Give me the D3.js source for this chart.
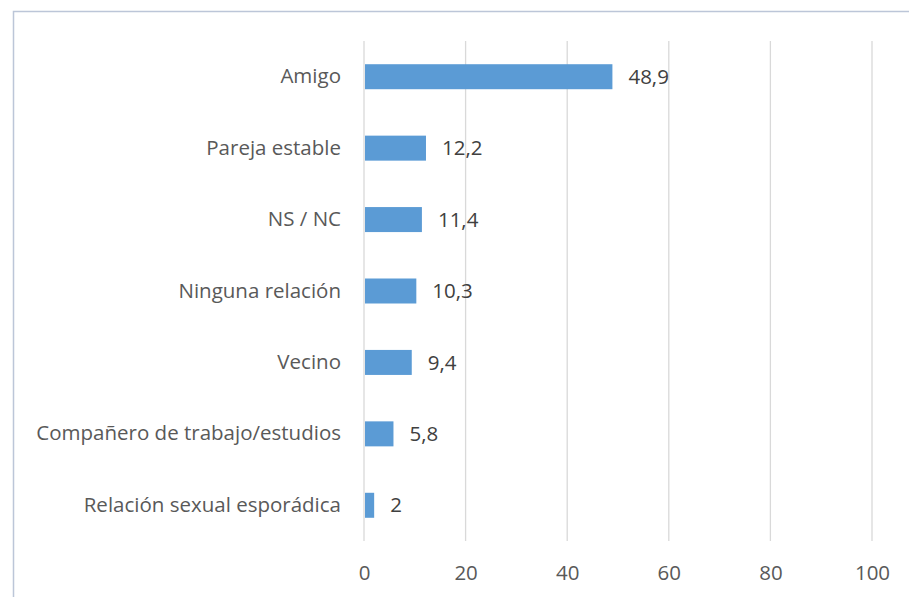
<!DOCTYPE html>
<html>
<head>
<meta charset="utf-8">
<script src="https://cdn.jsdelivr.net/npm/d3@7"></script>
<style>
  body { margin: 0; background: #fff; }
  svg { display: block; }
</style>
</head>
<body>
<script>
var categories = ["Amigo", "Pareja estable", "NS / NC", "Ninguna relación", "Vecino", "Compañero de trabajo/estudios", "Relación sexual esporádica"];
var values = [48.9, 12.2, 11.4, 10.3, 9.4, 5.8, 2];
var valueLabels = ["48,9", "12,2", "11,4", "10,3", "9,4", "5,8", "2"];
var ticks = [0, 20, 40, 60, 80, 100];

var W = 909, H = 597;
var margin = { top: 41, right: 37, bottom: 56, left: 364 },
  width = W - margin.left - margin.right,
  height = H - margin.top - margin.bottom;

var root = d3.select("body").append("svg")
  .attr("width", W)
  .attr("height", H);

// chart frame (runs off the right and bottom edges)
root.append("rect")
  .attr("x", 13.5).attr("y", 11.5)
  .attr("width", W + 10).attr("height", H + 10)
  .attr("fill", "none")
  .attr("stroke", "#bcc6d8")
  .attr("stroke-width", 1.5);

var svg = root.append("g")
  .attr("transform", "translate(" + margin.left + "," + margin.top + ")");

var x = d3.scaleLinear().domain([0, 100]).range([0, width]);
var y = d3.scaleBand().domain(categories).range([0, height]).paddingInner(0.65).paddingOuter(0.325);

var font = "'Open Sans', sans-serif";
var fs = "20.5px";

// gridlines
svg.selectAll(".grid")
  .data(ticks)
  .enter()
  .append("line")
  .attr("x1", function (d) { return x(d); })
  .attr("x2", function (d) { return x(d); })
  .attr("y1", 0)
  .attr("y2", height)
  .attr("stroke", "#d9d9d9")
  .attr("stroke-width", 1.3);

// bars
svg.selectAll(".bar")
  .data(values)
  .enter()
  .append("rect")
  .attr("class", "bar")
  .attr("x", x(0) + 1)
  .attr("y", function (d, i) { return y(categories[i]); })
  .attr("width", function (d) { return x(d) - x(0) - 1; })
  .attr("height", y.bandwidth())
  .attr("fill", "#5b9bd5");

// value labels
svg.selectAll(".val")
  .data(values)
  .enter()
  .append("text")
  .attr("x", function (d) { return x(d) + 16; })
  .attr("y", function (d, i) { return y(categories[i]) + y.bandwidth() / 2; })
  .attr("dy", "0.35em")
  .style("font-family", font)
  .style("font-size", fs)
  .attr("fill", "#404040")
  .text(function (d, i) { return valueLabels[i]; });

// category axis
var yAxis = svg.append("g")
  .call(d3.axisLeft(y).tickSize(0).tickPadding(23));
yAxis.select(".domain").remove();
yAxis.selectAll("text")
  .style("font-family", font)
  .style("font-size", fs)
  .attr("fill", "#595959");

// value axis
var xAxis = svg.append("g")
  .attr("transform", "translate(0," + height + ")")
  .call(d3.axisBottom(x).tickValues(ticks).tickSize(0).tickPadding(24));
xAxis.select(".domain").remove();
xAxis.selectAll("text")
  .style("font-family", font)
  .style("font-size", fs)
  .attr("fill", "#595959");
</script>
</body>
</html>
